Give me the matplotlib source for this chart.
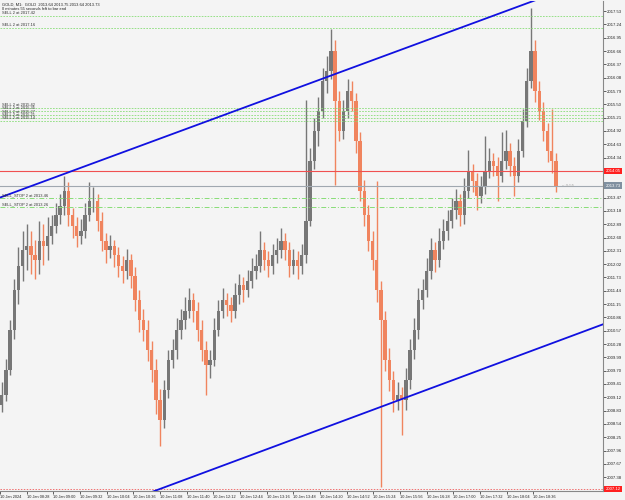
import numpy as np
import matplotlib
matplotlib.use("Agg")
import matplotlib.pyplot as plt
import matplotlib.transforms as mtransforms

plt.rcParams["font.family"] = ["Liberation Sans", "DejaVu Sans"]

# GOLD M1, 10 Jan 2024, bars grouped by 5 minutes (minutes after 07:56)
bar_minutes = list(range(2, 670, 5))
opens = [2008.95, 2009.16, 2009.71, 2010.58, 2011.45, 2011.99, 2012.32, 2012.42, 2012.21, 2012.10,
         2012.53, 2012.42, 2012.64, 2012.86, 2013.08, 2013.29, 2013.62, 2013.08, 2012.86, 2012.64,
         2012.75, 2013.08, 2013.40, 2013.40, 2012.97, 2012.53, 2012.32, 2012.42, 2012.21, 2011.99,
         2011.88, 2012.10, 2011.77, 2011.23, 2010.80, 2010.58, 2010.14, 2009.71, 2009.06, 2008.62,
         2009.27, 2009.93, 2010.14, 2010.58, 2010.80, 2011.01, 2011.23, 2011.01, 2010.58, 2010.14,
         2009.82, 2009.93, 2010.58, 2011.01, 2011.23, 2011.12, 2011.01, 2011.34, 2011.56, 2011.45,
         2011.66, 2011.88, 2011.99, 2012.32, 2012.10, 2011.99, 2012.21, 2012.32, 2012.53, 2012.32,
         2011.99, 2012.10, 2011.99, 2012.21, 2012.97, 2014.27, 2014.92, 2015.36, 2016.01, 2016.23,
         2016.66, 2015.58, 2014.92, 2015.36, 2015.79, 2015.58, 2014.71, 2013.62, 2013.08, 2012.53,
         2012.10, 2011.45, 2010.80, 2009.93, 2009.49, 2009.06, 2009.16, 2009.06, 2009.49, 2010.14,
         2010.58, 2011.23, 2011.45, 2011.88, 2012.32, 2012.10, 2012.53, 2012.75, 2012.97, 2013.19,
         2013.40, 2013.08, 2013.62, 2014.05, 2013.84, 2013.51, 2013.73, 2014.05, 2014.27, 2014.16,
         2013.95, 2014.27, 2014.49, 2014.16, 2013.95, 2014.49, 2015.14, 2016.01, 2016.66, 2015.79,
         2015.36, 2014.92, 2014.49, 2014.27]
highs = [2009.45, 2009.95, 2010.80, 2011.70, 2012.40, 2012.75, 2012.90, 2012.75, 2012.55, 2012.95,
         2012.90, 2013.05, 2013.10, 2013.35, 2013.55, 2013.95, 2013.80, 2013.25, 2013.05, 2013.00,
         2013.35, 2013.80, 2013.70, 2013.55, 2013.15, 2012.70, 2012.65, 2012.55, 2012.40, 2012.20,
         2012.35, 2012.25, 2011.95, 2011.45, 2011.05, 2010.80, 2010.35, 2009.95, 2009.30, 2009.50,
         2010.15, 2010.40, 2010.85, 2011.05, 2011.30, 2011.50, 2011.40, 2011.20, 2010.80, 2010.35,
         2010.15, 2010.85, 2011.25, 2011.50, 2011.40, 2011.30, 2011.60, 2011.80, 2011.75, 2011.90,
         2012.15, 2012.25, 2012.75, 2012.50, 2012.30, 2012.45, 2012.60, 2012.80, 2012.70, 2012.50,
         2012.35, 2012.30, 2012.45, 2015.60, 2014.55, 2015.20, 2015.65, 2016.30, 2016.55, 2017.15,
         2016.90, 2015.80, 2015.60, 2016.05, 2016.00, 2015.75, 2014.90, 2013.85, 2013.30, 2012.75,
         2013.84, 2011.65, 2011.00, 2010.20, 2009.70, 2009.45, 2009.35, 2009.75, 2010.40, 2010.85,
         2011.50, 2011.70, 2012.15, 2012.60, 2012.50, 2012.80, 2013.00, 2013.20, 2013.45, 2013.65,
         2013.55, 2013.90, 2014.50, 2014.20, 2014.00, 2013.95, 2014.80, 2014.55, 2014.45, 2014.35,
         2014.90, 2014.95, 2014.65, 2014.35, 2014.75, 2015.40, 2016.30, 2017.60, 2016.90, 2016.00,
         2015.55, 2015.10, 2015.40, 2014.45]
lows = [2008.80, 2009.05, 2009.60, 2010.40, 2011.15, 2011.65, 2011.90, 2011.80, 2011.70, 2011.80,
        2012.00, 2012.10, 2012.45, 2012.70, 2012.90, 2013.10, 2012.85, 2012.60, 2012.40, 2012.45,
        2012.60, 2012.95, 2013.15, 2012.75, 2012.30, 2012.05, 2012.15, 2011.95, 2011.75, 2011.60,
        2011.70, 2011.50, 2011.00, 2010.55, 2010.35, 2009.90, 2009.45, 2008.75, 2008.05, 2008.45,
        2009.10, 2009.75, 2009.95, 2010.40, 2010.60, 2010.85, 2010.75, 2010.35, 2009.90, 2009.16,
        2009.55, 2009.80, 2010.45, 2010.85, 2010.90, 2010.75, 2010.85, 2011.15, 2011.20, 2011.30,
        2011.50, 2011.70, 2011.85, 2011.90, 2011.75, 2011.80, 2012.05, 2012.15, 2012.10, 2011.75,
        2011.80, 2011.70, 2011.80, 2012.05, 2012.85, 2014.10, 2014.60, 2015.20, 2015.75, 2016.05,
        2013.75, 2014.70, 2014.75, 2015.20, 2015.35, 2014.45, 2013.40, 2012.85, 2012.30, 2011.90,
        2011.20, 2007.17, 2009.70, 2009.25, 2008.80, 2008.85, 2008.30, 2008.85, 2009.30, 2009.95,
        2010.40, 2011.05, 2011.30, 2011.70, 2011.85, 2011.95, 2012.35, 2012.55, 2012.80, 2013.00,
        2012.85, 2012.90, 2013.45, 2013.60, 2013.20, 2013.35, 2013.55, 2013.90, 2013.95, 2013.40,
        2013.80, 2014.10, 2013.95, 2013.50, 2013.80, 2014.35, 2015.00, 2015.85, 2015.55, 2015.15,
        2014.70, 2014.25, 2014.00, 2013.60]
closes = [2009.16, 2009.71, 2010.58, 2011.45, 2011.99, 2012.32, 2012.42, 2012.21, 2012.10, 2012.53,
          2012.42, 2012.64, 2012.86, 2013.08, 2013.29, 2013.62, 2013.08, 2012.86, 2012.64, 2012.75,
          2013.08, 2013.40, 2013.40, 2012.97, 2012.53, 2012.32, 2012.42, 2012.21, 2011.99, 2011.88,
          2012.10, 2011.77, 2011.23, 2010.80, 2010.58, 2010.14, 2009.71, 2009.06, 2008.62, 2009.27,
          2009.93, 2010.14, 2010.58, 2010.80, 2011.01, 2011.23, 2011.01, 2010.58, 2010.14, 2009.82,
          2009.93, 2010.58, 2011.01, 2011.23, 2011.12, 2011.01, 2011.34, 2011.56, 2011.45, 2011.66,
          2011.88, 2011.99, 2012.32, 2012.10, 2011.99, 2012.21, 2012.32, 2012.53, 2012.32, 2011.99,
          2012.10, 2011.99, 2012.21, 2012.97, 2014.27, 2014.92, 2015.36, 2016.01, 2016.23, 2016.66,
          2015.58, 2014.92, 2015.36, 2015.79, 2015.58, 2014.71, 2013.62, 2013.08, 2012.53, 2012.10,
          2011.45, 2010.80, 2009.93, 2009.49, 2009.06, 2009.16, 2009.06, 2009.49, 2010.14, 2010.58,
          2011.23, 2011.45, 2011.88, 2012.32, 2012.10, 2012.53, 2012.75, 2012.97, 2013.19, 2013.40,
          2013.08, 2013.62, 2014.05, 2013.84, 2013.51, 2013.73, 2014.05, 2014.27, 2014.16, 2013.95,
          2014.27, 2014.49, 2014.16, 2013.95, 2014.49, 2015.14, 2016.01, 2016.66, 2015.79, 2015.36,
          2014.92, 2014.49, 2014.27, 2013.73]

# price scale labels on the right
price_ticks = [2017.53, 2017.24, 2016.95, 2016.66, 2016.37, 2016.08, 2015.79, 2015.50, 2015.21,
               2014.92, 2014.63, 2014.34, 2013.47, 2013.18, 2012.89, 2012.60,
               2012.31, 2012.02, 2011.73, 2011.44, 2011.15, 2010.86, 2010.57, 2010.28, 2009.99,
               2009.70, 2009.41, 2009.12, 2008.83, 2008.54, 2008.25, 2007.96, 2007.67, 2007.38]
time_ticks = list(range(0, 641, 32))
time_labels = ["10 Jan 2024", "10 Jan 08:28", "10 Jan 09:00", "10 Jan 09:32", "10 Jan 10:04",
               "10 Jan 10:36", "10 Jan 11:08", "10 Jan 11:40", "10 Jan 12:12", "10 Jan 12:44",
               "10 Jan 13:16", "10 Jan 13:48", "10 Jan 14:20", "10 Jan 14:52", "10 Jan 15:24",
               "10 Jan 15:56", "10 Jan 16:28", "10 Jan 17:00", "10 Jan 17:32", "10 Jan 18:04",
               "10 Jan 18:36"]

# channel lines (minute, price)
upper_channel = [(0, 2013.47), (723.6, 2018.31)]
lower_channel = [(182.4, 2007.06), (723.6, 2010.71)]

sell_levels = [2017.42, 2017.16, 2015.42, 2015.35, 2015.27, 2015.21, 2015.14]
sell_labels = ["SELL 2 at 2017.42", "SELL 2 at 2017.16", "SELL 2 at 2015.42", "SELL 2 at 2015.35",
               "SELL 2 at 2015.27", "SELL 2 at 2015.21", "SELL 2 at 2015.14"]
stop_levels = [2013.45, 2013.26]
stop_labels = ["SELL_STOP 2 at 2013.46", "SELL_STOP 2 at 2013.26"]
alert_price = 2014.05
bid_price = 2013.73
low_line = 2007.12

bg = "#f4f4f4"
fig = plt.figure(figsize=(6.25, 5), dpi=100, facecolor=bg)
ax = fig.add_axes([0.0, 0.018, 603 / 625, 0.98])
ax.set_facecolor(bg)
ax.set_xlim(0, 723.6)
ax.set_ylim(2007.08, 2017.75)

o = np.array(opens); c = np.array(closes)
h = np.array(highs); l = np.array(lows)
x = np.array(bar_minutes)
up = c >= o
colors = np.where(up, "#777777", "#f0845e")
ax.vlines(x, l, h, colors=colors, linewidth=1.0, zorder=2)
ax.bar(x, np.abs(c - o), bottom=np.minimum(o, c), width=4.0, color=colors, zorder=2)

# channels
for line in (upper_channel, lower_channel):
    xs, ys = zip(*line)
    ax.plot(xs, ys, color="#1010e0", linewidth=1.3, zorder=4)

ax.axhline(alert_price, color="#f05050", linewidth=0.8, zorder=3)
ax.axhline(bid_price, color="#a0a8b0", linewidth=0.8, zorder=3)
ax.axhline(low_line, color="#f07070", linewidth=0.7, linestyle=(0, (1.5, 1.5)), zorder=3)

fs = 2.9
for lv, lab in zip(sell_levels, sell_labels):
    ax.axhline(lv, color="#88dd77", linewidth=0.6, linestyle=(0, (2, 1.5)), zorder=3)
    ax.text(2, lv + 0.02, lab, fontsize=fs, va="bottom", ha="left", color="#333333", zorder=5)
for lv, lab in zip(stop_levels, stop_labels):
    ax.axhline(lv, color="#88dd77", linewidth=0.7, linestyle=(0, (5, 2, 1, 2)), zorder=3)
    ax.text(2, lv + 0.02, lab, fontsize=fs, va="bottom", ha="left", color="#333333", zorder=5)

ax.text(675, bid_price, "< 0:55", fontsize=3.2, color="#a8a8a8", va="center", ha="left")

ax.text(2, 2017.675, "GOLD, M1:  GOLD  2013.64 2013.75 2013.64 2013.73", fontsize=fs,
        va="center", ha="left", color="#222222")
ax.text(2, 2017.57, "0 minutes 55 seconds left to bar end", fontsize=fs,
        va="center", ha="left", color="#222222")

# axes styling
for s in ("top", "left"):
    ax.spines[s].set_visible(False)
ax.spines["right"].set_color("#888888")
ax.spines["bottom"].set_color("#888888")
ax.yaxis.tick_right()
ax.set_yticks(price_ticks)
ax.set_yticklabels([f"{p:.2f}" for p in price_ticks])
ax.tick_params(axis="y", length=2, width=0.5, pad=1, labelsize=3.1, colors="#222222")
ax.set_xticks(time_ticks)
ax.set_xticklabels(time_labels, ha="left")
ax.tick_params(axis="x", length=2, width=0.5, pad=1, labelsize=2.8, colors="#222222")

trans = mtransforms.blended_transform_factory(ax.transAxes, ax.transData)
for price, fc in ((alert_price, "#ff2020"), (bid_price, "#8090a0"), (low_line, "#ff2020")):
    ax.text(1.004, price, f"{price:.2f}", transform=trans, fontsize=3.1, color="white",
            va="center", ha="left", clip_on=False,
            bbox=dict(boxstyle="square,pad=0.3", fc=fc, ec="none"))

fig.savefig("out.png", dpi=100, facecolor=bg)
